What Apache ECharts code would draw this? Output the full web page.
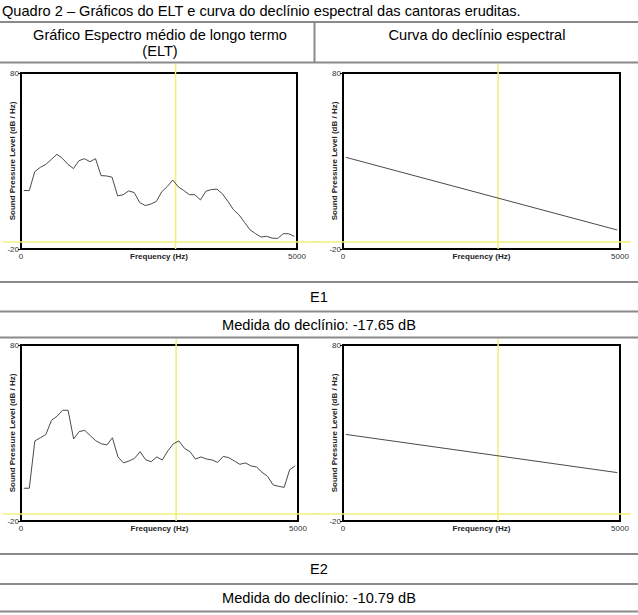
<!DOCTYPE html>
<html>
<head>
<meta charset="utf-8">
<title>Quadro 2 – ELT e declínio espectral</title>
<script src="https://cdn.jsdelivr.net/npm/echarts@6/dist/echarts.min.js"></script>
<style>
  html, body { margin: 0; padding: 0; background: #fff; }
  #chart { width: 638px; height: 615px; }
</style>
</head>
<body>
<div id="chart"></div>
<script>
// frequency bins of the long term average spectrum (Hz)
const freqs = [50, 150, 250, 350, 450, 550, 650, 750, 850, 950,
  1050, 1150, 1250, 1350, 1450, 1550, 1650, 1750, 1850, 1950,
  2050, 2150, 2250, 2350, 2450, 2550, 2650, 2750, 2850, 2950,
  3050, 3150, 3250, 3350, 3450, 3550, 3650, 3750, 3850, 3950,
  4050, 4150, 4250, 4350, 4450, 4550, 4650, 4750, 4850, 4950];
// ELT levels (dB/Hz)
const eltE1 = [13.2, 13.2, 24, 26.4, 28.1, 30.9, 33.8, 31.5, 28.1, 25.7,
  30.2, 31.3, 29.6, 31.3, 21.7, 21.5, 20.8, 10.2, 10.8, 13.0,
  12.1, 6.4, 4.7, 5.5, 7.0, 12.5, 15.5, 19.2, 15.3, 13.2,
  10.9, 10.8, 7.9, 12.8, 13.8, 14.0, 11.3, 7.0, 2.3, -0.6,
  -4.9, -9.1, -11.3, -13.2, -12.8, -13.8, -14.0, -11.3, -11.3, -12.8];
const eltE2 = [-1.4, -1.4, 25.5, 27.3, 29.2, 37.2, 39.5, 42.9, 42.9, 26.6,
  30.8, 31.5, 28.5, 25.6, 23.9, 23.2, 27.3, 16.4, 13.0, 14.1,
  15.6, 19.4, 14.8, 13.7, 16.4, 14.7, 19.8, 23.9, 25.5, 21.3,
  19.4, 15.2, 16.4, 15.2, 14.7, 13.3, 16.7, 16.0, 14.1, 12.2,
  13.0, 11.3, 10.7, 7.7, 5.4, 0.5, -0.3, -0.9, 9.2, 11.3];
// spectral tilt line, start and end
const tiltFreqs = [50, 4950];
const tiltE1 = [32.1, -9.2];
const tiltE2 = [29.2, 7.5];

const xTicks = [0, 5000];
const yTicks = [-20, 80];
const cursorFreq = 2800;
const cursorLevel = -16;
const singers = ["E1", "E2"];
const measures = ["-17.65", "-10.79"];

const chart = echarts.init(document.getElementById("chart"), null, { renderer: "svg" });

const grids = [
  { left: 21, top: 73, width: 276, height: 176 },
  { left: 343, top: 73, width: 277, height: 176 },
  { left: 21, top: 345, width: 277, height: 176 },
  { left: 343, top: 345, width: 277, height: 176 }
];
const lines = [
  freqs.map((f, i) => [f, eltE1[i]]),
  tiltFreqs.map((f, i) => [f, tiltE1[i]]),
  freqs.map((f, i) => [f, eltE2[i]]),
  tiltFreqs.map((f, i) => [f, tiltE2[i]])
];

const small = { fontSize: 8, color: "#333", fontFamily: "Liberation Sans", formatter: v => String(v) };
const bold = { fontSize: 8, color: "#222", fontWeight: "bold", fontFamily: "Liberation Sans" };

const tableFont = "14.6px 'Liberation Sans', Arial, sans-serif";
function label(text, x, y, align) {
  return {
    type: "text",
    style: { text: text, x: x, y: y, font: tableFont, fill: "#000",
      textAlign: align || "center", textVerticalAlign: "middle" }
  };
}
function hline(y) {
  return { type: "line", shape: { x1: 0, y1: y, x2: 638, y2: y },
    style: { stroke: "#8a8a8a", lineWidth: 2 } };
}

const graphic = [
  label("Quadro 2 – Gráficos do ELT e curva do declínio espectral das cantoras eruditas.", 2, 11, "left"),
  label("Gráfico Espectro médio de longo termo", 160, 35),
  label("(ELT)", 160, 51),
  label("Curva do declínio espectral", 477, 35),
  label(singers[0], 319, 297),
  label("Medida do declínio: " + measures[0] + " dB", 319, 325),
  label(singers[1], 319, 569),
  label("Medida do declínio: " + measures[1] + " dB", 319, 598),
  hline(22), hline(62.5), hline(282), hline(311.5), hline(337.5),
  hline(554), hline(584), hline(611.5),
  { type: "line", shape: { x1: 314.5, y1: 22, x2: 314.5, y2: 62.5 },
    style: { stroke: "#8a8a8a", lineWidth: 2 } }
];

chart.setOption({
  animation: false,
  backgroundColor: "#fff",
  grid: grids.map(g => Object.assign({ show: true, borderColor: "#000", borderWidth: 2,
    backgroundColor: "transparent" }, g)),
  xAxis: grids.map((g, i) => ({
    type: "value", gridIndex: i, min: 0, max: 5000,
    splitLine: { show: false },
    axisLine: { show: false },
    axisTick: { show: true, customValues: xTicks, length: 3, lineStyle: { color: "#000" } },
    axisLabel: Object.assign({ customValues: xTicks, margin: 3 }, small),
    name: "Frequency (Hz)", nameLocation: "middle", nameGap: 3,
    nameMoveOverlap: false,
    nameTextStyle: bold
  })),
  yAxis: grids.map((g, i) => ({
    type: "value", gridIndex: i, min: -20, max: 80,
    splitLine: { show: false },
    axisLine: { show: false },
    axisTick: { show: true, customValues: yTicks, length: 3, lineStyle: { color: "#000" } },
    axisLabel: Object.assign({ customValues: yTicks, margin: 2 }, small),
    name: "Sound Pressure Level (dB / Hz)", nameLocation: "middle", nameGap: 5,
    nameMoveOverlap: false,
    nameTextStyle: bold
  })),
  series: lines.map((d, i) => ({
    type: "line", xAxisIndex: i, yAxisIndex: i, data: d,
    showSymbol: false, silent: true, z: 5,
    lineStyle: { color: "#4a4a4a", width: 1 }
  })),
  graphic: graphic
});

// yellow cursor lines, placed through each grid's scales
const cursors = [];
grids.forEach((g, i) => {
  const p = chart.convertToPixel({ gridIndex: i }, [cursorFreq, cursorLevel]);
  const rowTop = i < 2 ? 64 : 339;
  const bottom = g.top + g.height;
  const left = i % 2 === 0;
  cursors.push({ type: "line", id: "cv" + i, z: 1,
    shape: { x1: p[0], y1: rowTop, x2: p[0], y2: bottom },
    style: { stroke: "#f2ee78", lineWidth: 1.5 } });
  cursors.push({ type: "line", id: "ch" + i, z: 1,
    shape: { x1: left ? 3 : 318, y1: p[1], x2: left ? 320 : 631, y2: p[1] },
    style: { stroke: "#f2ee78", lineWidth: 1.5 } });
});
chart.setOption({ graphic: graphic.concat(cursors) });
</script>
</body>
</html>
